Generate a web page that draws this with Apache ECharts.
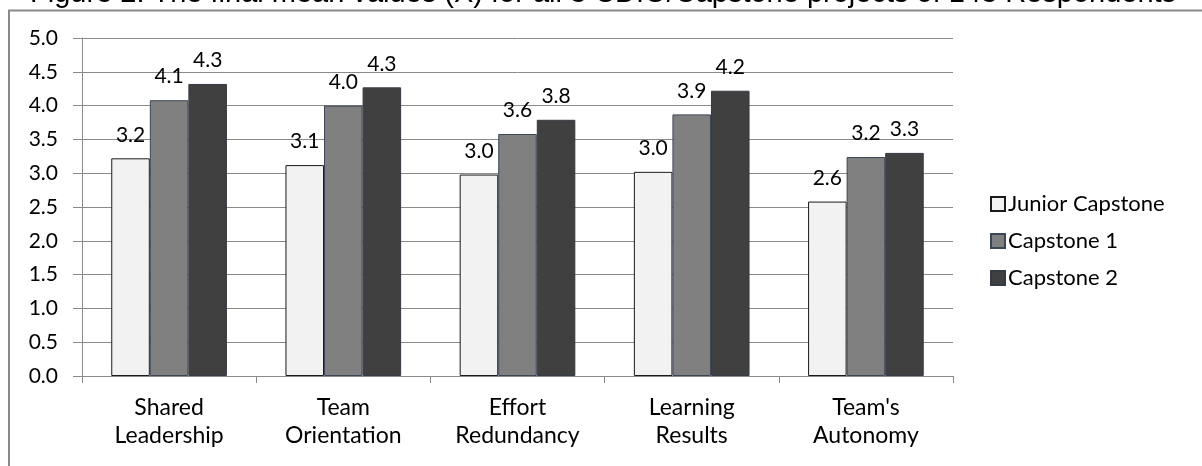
<!DOCTYPE html>
<html>
<head>
<meta charset="utf-8">
<script src="https://cdn.jsdelivr.net/npm/echarts@6/dist/echarts.min.js"></script>
<style>
html,body{margin:0;padding:0;background:#fff;}
#chart{width:1202px;height:466px;}
</style>
</head>
<body>
<div id="chart"></div>
<script>
const titleText = "Figure 2. The final mean values (X\u0304) for all 3 CDIO/Capstone projects of 143 Respondents";
const categories = ["Shared\nLeadership", "Team\nOrientation", "Effort\nRedundancy", "Learning\nResults", "Team's\nAutonomy"];
const seriesNames = ["Junior Capstone", "Capstone 1", "Capstone 2"];
const juniorCapstone = [3.22, 3.12, 2.98, 3.02, 2.58];
const capstone1 = [4.08, 4.00, 3.58, 3.87, 3.24];
const capstone2 = [4.32, 4.27, 3.79, 4.22, 3.30];
const yTicks = [0, 5, 0.5];

const FONT = "Lato";
const fills = ["#f2f2f2", "#808080", "#404040"];
const borders = ["#1a1a1a", "#3b4656", "#353b44"];
const values = [juniorCapstone, capstone1, capstone2];

const chart = echarts.init(document.getElementById('chart'));
chart.setOption({
  animation: false,
  backgroundColor: '#ffffff',
  textStyle: {fontFamily: FONT},
  title: {
    text: titleText,
    left: 30,
    top: -21,
    padding: 0,
    textStyle: {fontFamily: 'Liberation Sans', fontSize: 29, fontWeight: 'normal', color: '#000'}
  },
  graphic: [{
    type: 'rect',
    shape: {x: 9, y: 10.5, width: 1400, height: 700},
    style: {fill: 'none', stroke: '#8a8a8a', lineWidth: 2},
    z: 10,
    silent: true
  }],
  grid: {left: 82, right: 249, top: 38, bottom: 90, containLabel: false},
  legend: {
    orient: 'vertical',
    left: 985,
    top: 188,
    itemWidth: 14,
    itemHeight: 14,
    itemGap: 15,
    icon: 'rect',
    textStyle: {fontFamily: FONT, fontSize: 22, lineHeight: 22, color: '#000', padding: [0,0,0,-2]},
    data: seriesNames
  },
  xAxis: {
    type: 'category',
    data: categories,
    axisLine: {show: true, lineStyle: {color: '#8a8a8a', width: 1}},
    axisTick: {show: true, length: 7, alignWithLabel: false, lineStyle: {color: '#8a8a8a'}},
    axisLabel: {interval: 0, fontFamily: FONT, fontSize: 23, lineHeight: 28.5, color: '#000', margin: 17}
  },
  yAxis: {
    type: 'value',
    min: yTicks[0],
    max: yTicks[1],
    interval: yTicks[2],
    axisLine: {show: true, lineStyle: {color: '#8a8a8a', width: 1}},
    axisTick: {show: true, length: 9, lineStyle: {color: '#8a8a8a'}},
    splitLine: {show: true, lineStyle: {color: '#8a8a8a', width: 1}},
    axisLabel: {fontFamily: FONT, fontSize: 21, color: '#000', margin: 24, formatter: v => v.toFixed(1)}
  },
  series: seriesNames.map((name, i) => ({
    name: name,
    type: 'bar',
    data: values[i],
    barGap: '0%',
    barCategoryGap: '33.6%',
    itemStyle: {color: fills[i], borderColor: borders[i], borderWidth: 1},
    label: {
      show: true,
      position: 'top',
      distance: 13,
      fontFamily: FONT,
      fontSize: 21,
      color: '#000',
      formatter: p => p.value.toFixed(1)
    }
  }))
});
</script>
</body>
</html>
